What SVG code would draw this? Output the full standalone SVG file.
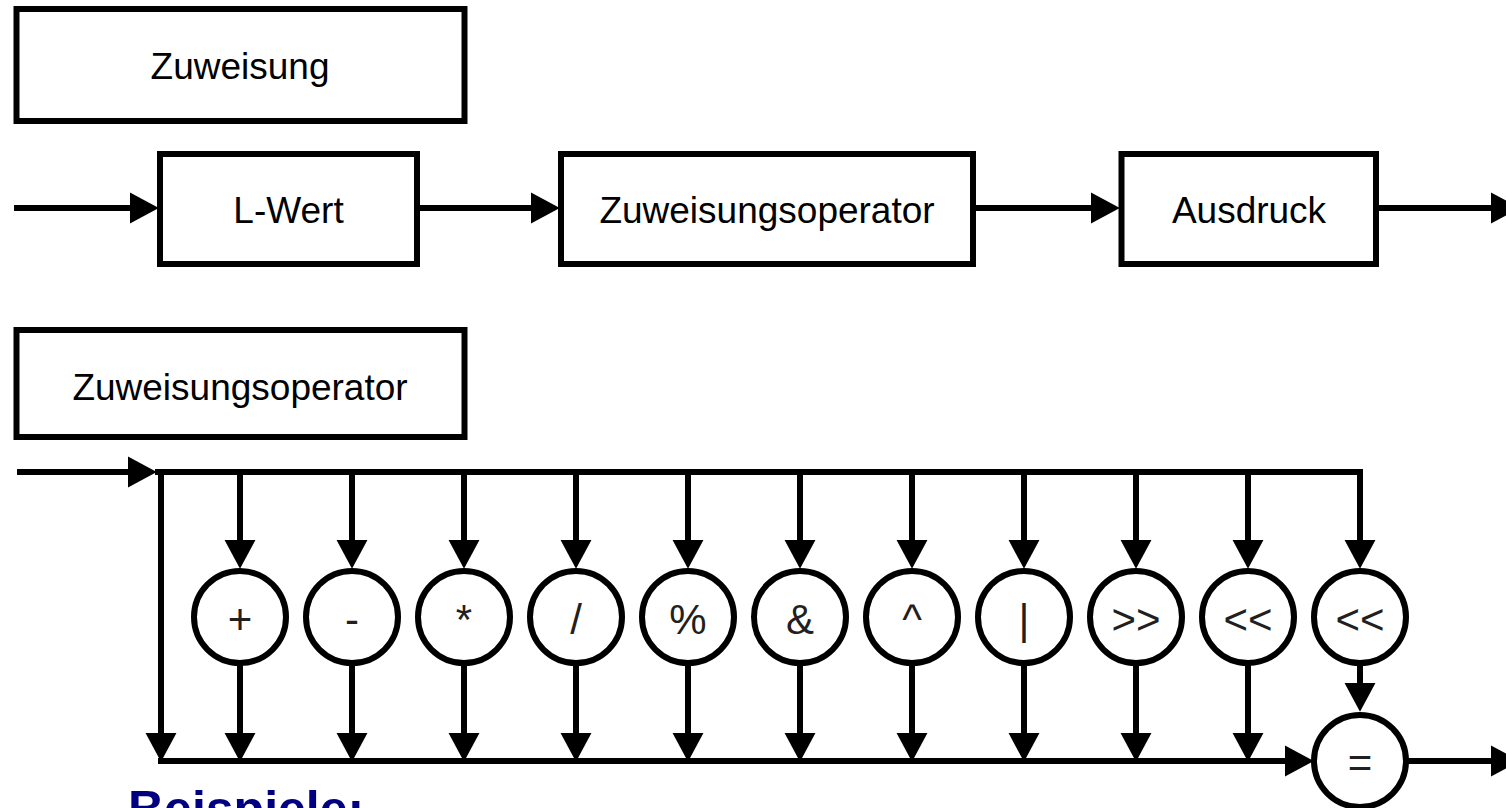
<svg xmlns="http://www.w3.org/2000/svg" width="1506" height="808" viewBox="0 0 1506 808">
<style>
.box{fill:#fff;stroke:#000;stroke-width:6}
.circ{fill:#fff;stroke:#000;stroke-width:6}
.lbl{font-family:"Liberation Sans",Arial,sans-serif;font-size:37px;fill:#000;text-anchor:middle}
.op{font-family:"Liberation Sans",Arial,sans-serif;font-size:42px;fill:#231f20;text-anchor:middle}
.ln{fill:none;stroke:#000;stroke-width:6}
.arr{marker-end:url(#ah)}
.title{font-family:"Liberation Sans",Arial,sans-serif;font-size:50px;font-weight:bold;fill:#000080}
</style>
<defs>
<marker id="ah" markerUnits="userSpaceOnUse" markerWidth="30" markerHeight="32" viewBox="0 -15 28 30" refX="0" refY="0" orient="auto">
<path d="M0,-14.5 L27,0 L0,14.5 Z" fill="#000"/>
</marker>
</defs>
<rect width="1506" height="808" fill="#fff"/>

<g id="connectors">
<line class="ln arr" x1="14" y1="208" x2="130" y2="208"/>
<line class="ln arr" x1="417" y1="208" x2="531" y2="208"/>
<line class="ln arr" x1="973" y1="208" x2="1091" y2="208"/>
<line class="ln arr" x1="1376" y1="208" x2="1491" y2="208"/>
<line class="ln arr" x1="17" y1="472" x2="128" y2="472"/>
<path class="ln" d="M155,472 H1360 V540" marker-end="url(#ah)"/>
<line class="ln arr" x1="161" y1="472" x2="161" y2="733"/>
<line class="ln arr" x1="240" y1="472" x2="240" y2="540"/>
<line class="ln arr" x1="352" y1="472" x2="352" y2="540"/>
<line class="ln arr" x1="464" y1="472" x2="464" y2="540"/>
<line class="ln arr" x1="576" y1="472" x2="576" y2="540"/>
<line class="ln arr" x1="688" y1="472" x2="688" y2="540"/>
<line class="ln arr" x1="800" y1="472" x2="800" y2="540"/>
<line class="ln arr" x1="912" y1="472" x2="912" y2="540"/>
<line class="ln arr" x1="1024" y1="472" x2="1024" y2="540"/>
<line class="ln arr" x1="1136" y1="472" x2="1136" y2="540"/>
<line class="ln arr" x1="1248" y1="472" x2="1248" y2="540"/>
<line class="ln arr" x1="240" y1="663" x2="240" y2="733"/>
<line class="ln arr" x1="352" y1="663" x2="352" y2="733"/>
<line class="ln arr" x1="464" y1="663" x2="464" y2="733"/>
<line class="ln arr" x1="576" y1="663" x2="576" y2="733"/>
<line class="ln arr" x1="688" y1="663" x2="688" y2="733"/>
<line class="ln arr" x1="800" y1="663" x2="800" y2="733"/>
<line class="ln arr" x1="912" y1="663" x2="912" y2="733"/>
<line class="ln arr" x1="1024" y1="663" x2="1024" y2="733"/>
<line class="ln arr" x1="1136" y1="663" x2="1136" y2="733"/>
<line class="ln arr" x1="1248" y1="663" x2="1248" y2="733"/>
<line class="ln arr" x1="1360" y1="663" x2="1360" y2="683"/>
<line class="ln arr" x1="158" y1="761" x2="1285" y2="761"/>
<line class="ln arr" x1="1407" y1="761" x2="1491" y2="761"/>
</g>

<g id="n-zuweisung-title"><rect class="box" x="16.5" y="9" width="448" height="112"/><text class="lbl" x="240" y="79">Zuweisung</text></g>
<g id="n-lwert"><rect class="box" x="160" y="154" width="257" height="110"/><text class="lbl" x="288.5" y="223">L-Wert</text></g>
<g id="n-zuweisungsoperator"><rect class="box" x="561" y="154" width="412" height="110"/><text class="lbl" x="767" y="223">Zuweisungsoperator</text></g>
<g id="n-ausdruck"><rect class="box" x="1121.5" y="154" width="254.5" height="110"/><text class="lbl" x="1249" y="223">Ausdruck</text></g>
<g id="n-zuweisungsoperator-title"><rect class="box" x="16.5" y="330" width="448" height="107"/><text class="lbl" x="240" y="400">Zuweisungsoperator</text></g>

<g id="op-plus"><circle class="circ" cx="240" cy="617" r="46"/><text class="op" x="240" y="634">+</text></g>
<g id="op-minus"><circle class="circ" cx="352" cy="617" r="46"/><text class="op" x="352" y="634">-</text></g>
<g id="op-mul"><circle class="circ" cx="464" cy="617" r="46"/><text class="op" x="464" y="634">*</text></g>
<g id="op-div"><circle class="circ" cx="576" cy="617" r="46"/><text class="op" x="576" y="634">/</text></g>
<g id="op-mod"><circle class="circ" cx="688" cy="617" r="46"/><text class="op" x="688" y="634">%</text></g>
<g id="op-and"><circle class="circ" cx="800" cy="617" r="46"/><text class="op" x="800" y="634">&amp;</text></g>
<g id="op-xor"><circle class="circ" cx="912" cy="617" r="46"/><text class="op" x="912" y="634">^</text></g>
<g id="op-or"><circle class="circ" cx="1024" cy="617" r="46"/><text class="op" x="1024" y="634">|</text></g>
<g id="op-shr"><circle class="circ" cx="1136" cy="617" r="46"/><text class="op" x="1136" y="634">&gt;&gt;</text></g>
<g id="op-shl1"><circle class="circ" cx="1248" cy="617" r="46"/><text class="op" x="1248" y="634">&lt;&lt;</text></g>
<g id="op-shl2"><circle class="circ" cx="1360" cy="617" r="46"/><text class="op" x="1360" y="634">&lt;&lt;</text></g>
<g id="op-assign"><circle class="circ" cx="1360" cy="761" r="46"/><text class="op" x="1360" y="777">=</text></g>

<text class="title" x="128" y="826">Beispiele:</text>
</svg>
